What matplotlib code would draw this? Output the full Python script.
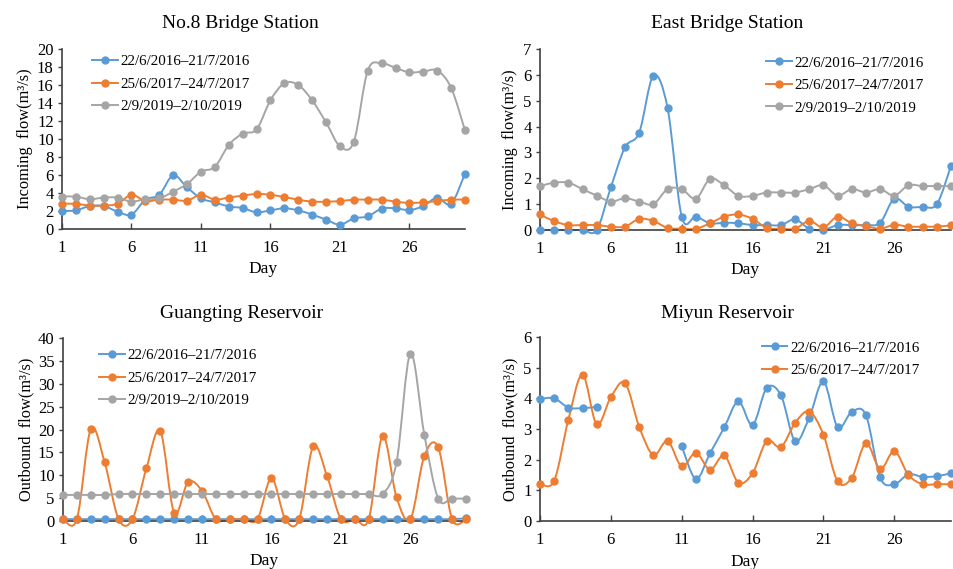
import numpy as np
import matplotlib
matplotlib.use("Agg")
import matplotlib.pyplot as plt
from matplotlib.path import Path
from matplotlib.patches import PathPatch
from matplotlib.lines import Line2D

plt.rcParams['font.family'] = ['Liberation Serif', 'DejaVu Serif']

days = np.arange(1, 31)
xticks = [1, 6, 11, 16, 21, 26]
labels = ['22/6/2016\u201321/7/2016', '25/6/2017\u201324/7/2017', '2/9/2019\u20132/10/2019']
colors = ['#5B9BD5', '#ED7D31', '#A5A5A5']

# No.8 Bridge Station (incoming flow)
n8_2016 = [2.0, 2.07, 2.55, 2.55, 1.93, 1.6, 3.26, 3.8, 5.96, 4.63, 3.4, 2.96, 2.5, 2.33, 1.85,
           2.07, 2.3, 2.07, 1.6, 1.04, 0.48, 1.18, 1.4, 2.26, 2.3, 2.1, 2.55, 3.48, 2.8, 6.15]
n8_2017 = [2.8, 2.8, 2.6, 2.6, 2.8, 3.8, 3.1, 3.26, 3.26, 3.15, 3.8, 3.26, 3.5, 3.7, 3.9,
           3.8, 3.55, 3.26, 3.04, 3.04, 3.1, 3.26, 3.26, 3.26, 3.04, 2.9, 2.96, 3.1, 3.26, 3.26]
n8_2019 = [3.6, 3.6, 3.3, 3.5, 3.48, 3.04, 3.33, 3.4, 4.15, 5.0, 6.37, 6.9, 9.33, 10.6, 11.07,
           14.3, 16.2, 16.0, 14.3, 11.85, 9.2, 9.7, 17.6, 18.4, 17.9, 17.4, 17.5, 17.6, 15.7, 10.96]

# East Bridge Station (incoming flow)
eb_2016 = [0, 0, 0, 0, 0, 1.65, 3.2, 3.77, 5.97, 4.72, 0.52, 0.52, 0.26, 0.28, 0.26,
           0.19, 0.19, 0.19, 0.41, 0.05, 0.0, 0.19, 0.19, 0.19, 0.28, 1.21, 0.9, 0.9, 1.0, 2.48]
eb_2017 = [0.6, 0.34, 0.19, 0.19, 0.19, 0.13, 0.13, 0.43, 0.35, 0.08, 0.05, 0.05, 0.26, 0.52, 0.6,
           0.43, 0.08, 0.05, 0.05, 0.35, 0.1, 0.52, 0.26, 0.15, 0.05, 0.2, 0.13, 0.13, 0.13, 0.18]
eb_2019 = [1.7, 1.83, 1.83, 1.58, 1.33, 1.1, 1.23, 1.1, 1.0, 1.58, 1.58, 1.21, 1.98, 1.73, 1.32,
           1.32, 1.45, 1.45, 1.45, 1.58, 1.73, 1.33, 1.58, 1.45, 1.58, 1.33, 1.73, 1.7, 1.7, 1.7]

# Guangting Reservoir (outbound flow)
gt_2016 = [0.4] * 29 + [0.6]
gt_2017 = [0.4, 0.4, 20.1, 12.8, 0.4, 0.4, 11.5, 19.7, 1.8, 8.5, 6.6, 0.4, 0.4, 0.4, 0.4,
           9.4, 0.4, 0.4, 16.3, 9.85, 0.4, 0.4, 0.4, 18.6, 5.2, 0.4, 14.2, 16.1, 0.4, 0.4]
gt_2019 = [5.7, 5.7, 5.7, 5.7, 5.9, 5.9, 5.9, 5.9, 5.9, 5.9, 5.9, 5.9, 5.9, 5.9, 5.9,
           5.9, 5.9, 5.9, 5.9, 5.9, 5.9, 5.9, 5.9, 5.9, 12.8, 36.6, 18.9, 4.9, 4.9, 4.9]

# Miyun Reservoir (outbound flow), no 2016 record for days 6-10
my_2016 = [3.98, 4.0, 3.7, 3.68, 3.72, None, None, None, None, None, 2.44, 1.37, 2.21, 3.05, 3.9,
           3.13, 4.34, 4.1, 2.61, 3.37, 4.55, 3.06, 3.56, 3.45, 1.42, 1.2, 1.52, 1.44, 1.46, 1.56]
my_2017 = [1.21, 1.31, 3.3, 4.77, 3.15, 4.04, 4.5, 3.07, 2.15, 2.61, 1.78, 2.23, 1.67, 2.14, 1.25,
           1.56, 2.61, 2.41, 3.2, 3.57, 2.81, 1.29, 1.41, 2.54, 1.69, 2.28, 1.5, 1.2, 1.2, 1.2]


def smooth_line(ax, x, y, color):
    # excel-like smoothed line: cubic bezier through the points
    x = np.asarray(x, float)
    y = np.array([np.nan if v is None else v for v in y], float)
    ok = ~np.isnan(y)
    # split into runs of valid points
    runs = []
    start = None
    for i in range(len(y)):
        if ok[i] and start is None:
            start = i
        if (not ok[i] or i == len(y) - 1) and start is not None:
            end = i if ok[i] else i - 1
            runs.append((start, end))
            start = None
    for s, e in runs:
        px, py = x[s:e + 1], y[s:e + 1]
        n = len(px)
        verts = [(px[0], py[0])]
        codes = [Path.MOVETO]
        for i in range(n - 1):
            i0 = max(i - 1, 0)
            i3 = min(i + 2, n - 1)
            c1 = (px[i] + (px[i + 1] - px[i0]) / 6, py[i] + (py[i + 1] - py[i0]) / 6)
            c2 = (px[i + 1] - (px[i3] - px[i]) / 6, py[i + 1] - (py[i3] - py[i]) / 6)
            verts += [c1, c2, (px[i + 1], py[i + 1])]
            codes += [Path.CURVE4] * 3
        ax.add_patch(PathPatch(Path(verts, codes), fill=False, edgecolor=color, lw=1.4,
                               clip_on=False, zorder=2))
    ax.plot(x[ok], y[ok], linestyle='none', marker='o', ms=5, color=color, clip_on=False, zorder=3)


W, H = 954, 569
fig = plt.figure(figsize=(W / 100, H / 100), dpi=100)

panels = [
    # title, ylabel, series, ymax, ystep, axes box px (l, t, r, b), title pos px, legend anchor, ylabel x px
    ('No.8 Bridge Station', 'Incoming  flow(m\u00b3/s)', [n8_2016, n8_2017, n8_2019], 20, 2,
     (62, 49, 465, 229), (240, 24), (0.075, 0.967), 33),
    ('East Bridge Station', 'Incoming  flow(m\u00b3/s)', [eb_2016, eb_2017, eb_2019], 7, 1,
     (540, 49, 951, 230), (727, 24), (0.55, 0.96), 518),
    ('Guangting Reservoir', 'Outbound  flow(m\u00b3/s)', [gt_2016, gt_2017, gt_2019], 40, 5,
     (63, 338, 466, 521), (242, 313), (0.09, 0.94), 34),
    ('Miyun Reservoir', 'Outbound  flow(m\u00b3/s)', [my_2016, my_2017], 6, 1,
     (540, 337, 951, 521), (727, 313), (0.54, 0.978), 518),
]

for title, ylab, series, ymax, ystep, (l, t, r, b), (tx, ty), lanchor, ylx in panels:
    ax = fig.add_axes([l / W, 1 - b / H, (r - l) / W, (b - t) / H])
    for k, vals in enumerate(series):
        smooth_line(ax, days, vals, colors[k])
    ax.set_xlim(1, 30)
    ax.set_ylim(0, ymax)
    ax.set_xticks(xticks)
    ax.set_yticks(np.arange(0, ymax + ystep / 2, ystep))
    for side in ['top', 'right']:
        ax.spines[side].set_visible(False)
    for side in ['left', 'bottom']:
        ax.spines[side].set_color('#404040')
        ax.spines[side].set_linewidth(1.2)
    ax.tick_params(axis='x', direction='in', length=4, width=1, color='#404040', labelsize=12, pad=8)
    ax.tick_params(axis='y', direction='out', length=3, width=1, color='#404040', labelsize=12, pad=3)
    ax.set_xlabel('Day', fontsize=12.5)
    ax.xaxis.set_label_coords(0.5, -0.177)
    ax.set_ylabel(ylab, fontsize=11.8)
    ax.yaxis.set_label_coords((ylx - l) / (r - l), 0.5)
    fig.text(tx / W, 1 - ty / H, title, fontsize=14, ha='center', va='center')
    handles = [Line2D([], [], color=colors[k], lw=1.4, marker='o', ms=5) for k in range(len(series))]
    ax.legend(handles, labels[:len(series)], loc='upper left', bbox_to_anchor=lanchor,
              frameon=False, fontsize=10.8, handlelength=1.7, handletextpad=0.2,
              labelspacing=0.6, borderpad=0, borderaxespad=0)

fig.savefig('out.png', dpi=100, facecolor='white')
